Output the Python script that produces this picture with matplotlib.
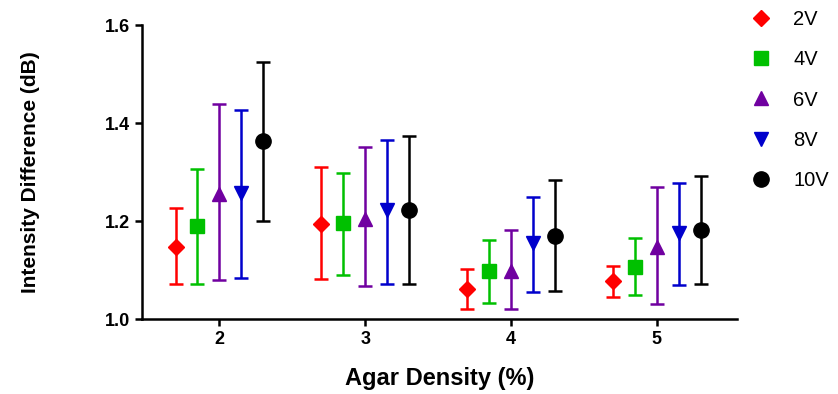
import numpy as np
import matplotlib.pyplot as plt

plt.rcParams['font.family'] = ['Liberation Sans', 'DejaVu Sans']

# agar density categories (%)
densities = [2, 3, 4, 5]
voltages = ['2V', '4V', '6V', '8V', '10V']

# mean intensity difference (dB) per voltage, one value per density
mean_2v = [1.148, 1.195, 1.061, 1.078]
mean_4v = [1.189, 1.196, 1.098, 1.107]
mean_6v = [1.256, 1.204, 1.098, 1.148]
mean_8v = [1.257, 1.223, 1.156, 1.175]
mean_10v = [1.363, 1.223, 1.170, 1.182]

# error bar ends (lower, upper)
low_2v = [1.071, 1.081, 1.020, 1.046]
up_2v = [1.227, 1.311, 1.102, 1.109]
low_4v = [1.071, 1.091, 1.033, 1.049]
up_4v = [1.307, 1.299, 1.162, 1.165]
low_6v = [1.080, 1.068, 1.020, 1.030]
up_6v = [1.439, 1.352, 1.182, 1.270]
low_8v = [1.083, 1.072, 1.055, 1.070]
up_8v = [1.426, 1.366, 1.249, 1.277]
low_10v = [1.200, 1.072, 1.057, 1.072]
up_10v = [1.525, 1.373, 1.283, 1.293]

means = [mean_2v, mean_4v, mean_6v, mean_8v, mean_10v]
lows = [low_2v, low_4v, low_6v, low_8v, low_10v]
ups = [up_2v, up_4v, up_6v, up_8v, up_10v]

colors = ['#ff0000', '#00c000', '#7000a0', '#0000cc', '#000000']
markers = ['D', 's', '^', 'v', 'o']
sizes = [8, 10, 10.5, 10.5, 11]
offsets = [-0.3, -0.15, 0.0, 0.15, 0.3]

fig = plt.figure(figsize=(8.38, 3.94), dpi=100)
ax = fig.add_axes([0.1695, 0.19, 0.71, 0.7465])

x = np.array(densities, dtype=float)
for m, lo, hi, c, mk, ms, off, lab in zip(means, lows, ups, colors, markers,
                                          sizes, offsets, voltages):
    m = np.array(m)
    yerr = [m - np.array(lo), np.array(hi) - m]
    ax.errorbar(x + off, m, yerr=yerr, fmt=mk, color=c, ms=ms,
                elinewidth=1.8, capsize=5, capthick=1.8, label=lab)

ax.set_xlim(1.47, 5.55)
ax.set_ylim(1.0, 1.6)
ax.set_xticks(densities)
ax.set_yticks([1.0, 1.2, 1.4, 1.6])
ax.set_yticklabels(['1.0', '1.2', '1.4', '1.6'])

for s in ['top', 'right']:
    ax.spines[s].set_visible(False)
for s in ['left', 'bottom']:
    ax.spines[s].set_linewidth(1.8)
ax.tick_params(width=1.8, length=5, labelsize=13)
for t in ax.get_xticklabels() + ax.get_yticklabels():
    t.set_fontweight('bold')

ax.set_xlabel('Agar Density (%)', fontsize=17, fontweight='bold', labelpad=14)
ax.set_ylabel('Intensity Difference (dB)', fontsize=15, fontweight='bold', labelpad=47)

handles, labels = ax.get_legend_handles_labels()
handles = [h[0] for h in handles]
fig.legend(handles, labels, loc='upper left', bbox_to_anchor=(0.872, 1.02),
           frameon=False, fontsize=14.5, labelspacing=1.05, handletextpad=1.0,
           handlelength=1.2)

fig.savefig('out.png', dpi=100)
